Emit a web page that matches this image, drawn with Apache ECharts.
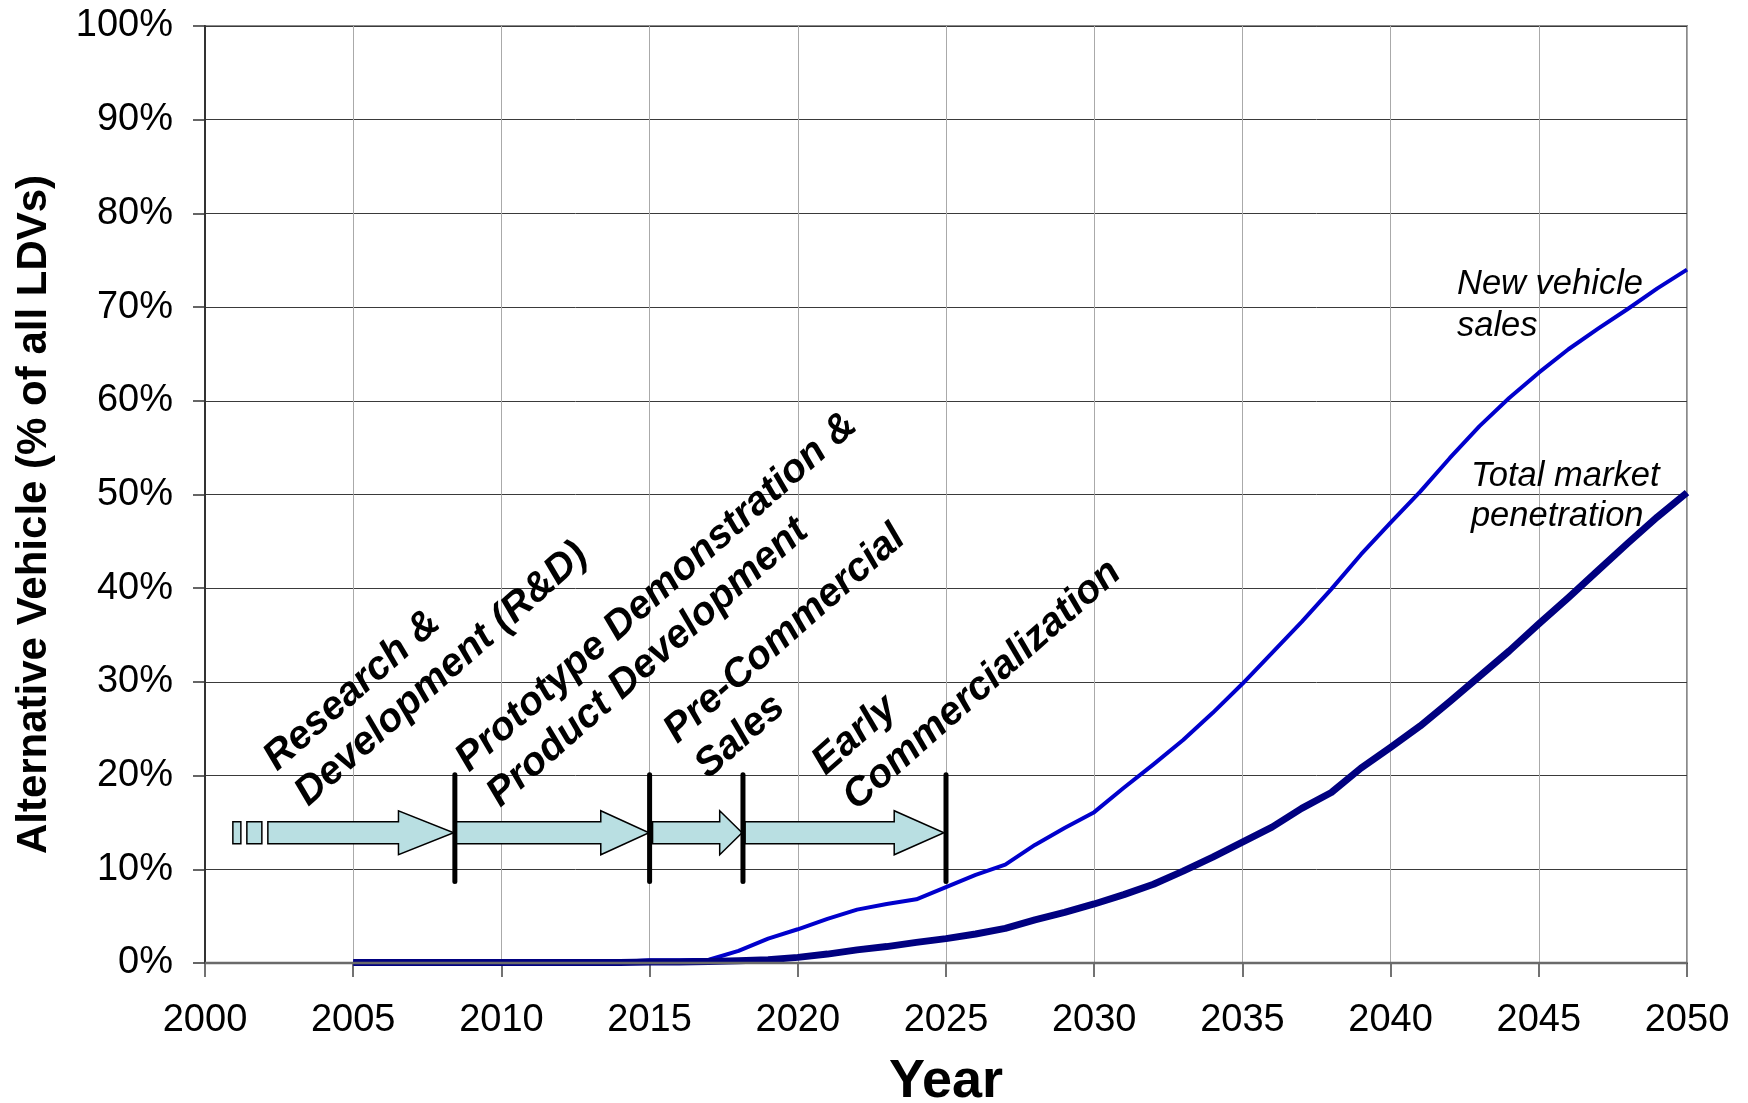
<!DOCTYPE html>
<html>
<head>
<meta charset="utf-8">
<title>Alternative Vehicle Market Penetration</title>
<script src="https://cdn.jsdelivr.net/npm/echarts@6/dist/echarts.min.js"></script>
<style>
  html, body { margin: 0; padding: 0; background: #fff; }
  #chart { width: 1748px; height: 1103px; }
</style>
</head>
<body>
<div id="chart"></div>
<script>
// Projection years and shares (% of all light-duty vehicles)
const years = [2005, 2006, 2007, 2008, 2009, 2010, 2011, 2012, 2013, 2014,
               2015, 2016, 2017, 2018, 2019, 2020, 2021, 2022, 2023, 2024,
               2025, 2026, 2027, 2028, 2029, 2030, 2031, 2032, 2033, 2034,
               2035, 2036, 2037, 2038, 2039, 2040, 2041, 2042, 2043, 2044,
               2045, 2046, 2047, 2048, 2049, 2050];
const newVehicleSales = [0.05, 0.05, 0.05, 0.05, 0.05, 0.05, 0.05, 0.05, 0.05, 0.1,
                         0.3, 0.3, 0.35, 1.3, 2.6, 3.6, 4.7, 5.7, 6.3, 6.8,
                         8.1, 9.4, 10.5, 12.6, 14.4, 16.1, 18.7, 21.2, 23.8, 26.7,
                         29.8, 33.1, 36.4, 39.9, 43.6, 47.0, 50.3, 53.9, 57.3, 60.3,
                         63.0, 65.5, 67.7, 69.8, 72.0, 74.0];
const totalMarket = [0.05, 0.05, 0.05, 0.05, 0.05, 0.05, 0.05, 0.05, 0.05, 0.05,
                     0.1, 0.1, 0.15, 0.25, 0.35, 0.6, 0.95, 1.4, 1.75, 2.2,
                     2.6, 3.1, 3.7, 4.6, 5.4, 6.3, 7.3, 8.4, 9.8, 11.3,
                     12.9, 14.5, 16.5, 18.2, 20.8, 23.0, 25.3, 27.9, 30.6, 33.3,
                     36.2, 39.0, 41.9, 44.8, 47.6, 50.2];

// Development phases: [start year, end year, level %, broken tail (1 = yes)]
const phaseArrows = [
  [2000.94, 2008.39, 13.9, 1],
  [2008.47, 2014.98, 13.9, 0],
  [2015.10, 2018.12, 13.9, 0],
  [2018.22, 2024.93, 13.9, 0]
];
// Phase boundaries: [year, low %, high %]
const phaseBoundaries = [
  [2008.43, 8.7, 20.1],
  [2015.0, 8.7, 20.1],
  [2018.15, 8.7, 20.1],
  [2025.0, 8.7, 20.1]
];
const phaseNames = [
  'Research &\nDevelopment (R&D)',
  'Prototype Demonstration &\nProduct Development',
  'Pre-Commercial\nSales',
  'Early\nCommercialization'
];
// Anchor of each phase caption (year, %)
const phaseNameAnchors = [
  [2003.76, 15.65],
  [2010.24, 15.55],
  [2017.26, 18.6],
  [2022.26, 15.2]
];
const curveNames = ['New vehicle\nsales', 'Total market\npenetration'];
const curveNameAnchors = [[2042.24, 74.7], [2042.71, 54.1]];

const yTicks = [0, 10, 20, 30, 40, 50, 60, 70, 80, 90, 100];

const FONT = '"Liberation Sans", Arial, Helvetica, sans-serif';

const chart = echarts.init(document.getElementById('chart'), null, { renderer: 'canvas' });

const salesData = years.map((y, i) => [y, newVehicleSales[i]]);
const totalData = years.map((y, i) => [y, totalMarket[i]]);

function renderArrow(params, api) {
  const s = api.coord([api.value(0), api.value(2)]);
  const e = api.coord([api.value(1), api.value(2)]);
  const broken = api.value(3) === 1;
  const cy = s[1];
  const headLen = (e[0] - s[0]) * 0.25;
  const bodyHalf = 11, headHalf = 22;
  const style = { fill: '#B9DFE2', stroke: '#000', lineWidth: 1.5 };
  const children = [];
  let bx = s[0];
  if (broken) {
    children.push({ type: 'rect', shape: { x: bx, y: cy - bodyHalf, width: 8, height: bodyHalf * 2 }, style });
    children.push({ type: 'rect', shape: { x: bx + 14, y: cy - bodyHalf, width: 15, height: bodyHalf * 2 }, style });
    bx += 35;
  }
  const hx = e[0] - headLen;
  children.push({
    type: 'polygon',
    shape: { points: [
      [bx, cy - bodyHalf], [hx, cy - bodyHalf], [hx, cy - headHalf], [e[0], cy],
      [hx, cy + headHalf], [hx, cy + bodyHalf], [bx, cy + bodyHalf]
    ] },
    style
  });
  return { type: 'group', children };
}

function renderBoundary(params, api) {
  const a = api.coord([api.value(0), api.value(1)]);
  const b = api.coord([api.value(0), api.value(2)]);
  return {
    type: 'line',
    shape: { x1: a[0], y1: a[1], x2: b[0], y2: b[1] },
    style: { stroke: '#000', lineWidth: 5, lineCap: 'round' }
  };
}

chart.setOption({
  backgroundColor: '#fff',
  animation: false,
  grid: {
    left: 205, right: 61, top: 26, bottom: 140,
    containLabel: false, outerBoundsMode: 'none',
    show: true, borderColor: '#8a8a8a', borderWidth: 2, backgroundColor: 'transparent'
  },
  xAxis: {
    type: 'value', min: 2000, max: 2050, interval: 5,
    name: 'Year', nameLocation: 'middle', nameGap: 92,
    nameTextStyle: { fontFamily: FONT, fontSize: 54, fontWeight: 'bold', color: '#000' },
    axisLine: { show: true, onZero: false, lineStyle: { color: '#6a6a6a', width: 2 } },
    axisTick: { show: true, length: 14, lineStyle: { color: '#444', width: 1.5 } },
    axisLabel: { margin: 39, fontFamily: FONT, fontSize: 38, color: '#000', formatter: v => String(v) },
    splitLine: { show: true, lineStyle: { color: '#aaaaaa', width: 1 } }
  },
  yAxis: {
    type: 'value', min: yTicks[0], max: yTicks[yTicks.length - 1], interval: 10,
    name: 'Alternative Vehicle (% of all LDVs)', nameLocation: 'middle', nameGap: 150,
    nameTextStyle: {
      fontFamily: FONT, fontSize: 42, fontWeight: 'bold', color: '#000',
      padding: [0, 40, 0, 0]
    },
    axisLine: { show: true, lineStyle: { color: '#333', width: 2 } },
    axisTick: { show: true, length: 12, lineStyle: { color: '#333', width: 1.5 } },
    axisLabel: { margin: 32, fontFamily: FONT, fontSize: 38, color: '#000', formatter: '{value}%' },
    splitLine: { show: true, lineStyle: { color: '#3a3a3a', width: 1 } }
  },
  series: [
    {
      type: 'custom', name: 'phases', renderItem: renderArrow,
      encode: { x: [0, 1], y: 2 }, data: phaseArrows, z: 3, silent: true
    },
    {
      type: 'custom', name: 'boundaries', renderItem: renderBoundary,
      encode: { x: 0, y: [1, 2] }, data: phaseBoundaries, z: 4, silent: true
    },
    {
      type: 'line', name: 'New vehicle sales', data: salesData,
      showSymbol: false, symbol: 'none', z: 5,
      lineStyle: { color: '#0000CC', width: 4, join: 'round' }
    },
    {
      type: 'line', name: 'Total market penetration', data: totalData,
      showSymbol: false, symbol: 'none', z: 6,
      lineStyle: { color: '#000080', width: 7, join: 'round' }
    }
  ]
});

// Captions positioned in data space, plus the baseline redrawn above the curves
const ROT = 41.5 * Math.PI / 180;
const graphics = [];
phaseNames.forEach((txt, i) => {
  const p = chart.convertToPixel({ gridIndex: 0 }, phaseNameAnchors[i]);
  graphics.push({
    type: 'text', x: p[0], y: p[1], rotation: ROT, z: 20,
    style: {
      text: txt, fontFamily: FONT, fontSize: 40, fontWeight: 'bold', fontStyle: 'italic',
      fill: '#000', align: 'left', verticalAlign: 'bottom', lineHeight: 47
    }
  });
});
curveNames.forEach((txt, i) => {
  const p = chart.convertToPixel({ gridIndex: 0 }, curveNameAnchors[i]);
  graphics.push({
    type: 'text', x: p[0], y: p[1], z: 20,
    style: {
      text: txt, fontFamily: FONT, fontSize: 34.5, fontStyle: 'italic',
      fill: '#000', align: 'left', verticalAlign: 'top', lineHeight: i === 0 ? 42 : 40
    }
  });
});
const b0 = chart.convertToPixel({ gridIndex: 0 }, [2000, 0]);
const b1 = chart.convertToPixel({ gridIndex: 0 }, [2050, 0]);
graphics.push({
  type: 'line', z: 15, silent: true,
  shape: { x1: b0[0], y1: b0[1], x2: b1[0], y2: b1[1] },
  style: { stroke: '#6a6a6a', lineWidth: 2.5 }
});
chart.setOption({ graphic: graphics });
</script>
</body>
</html>
